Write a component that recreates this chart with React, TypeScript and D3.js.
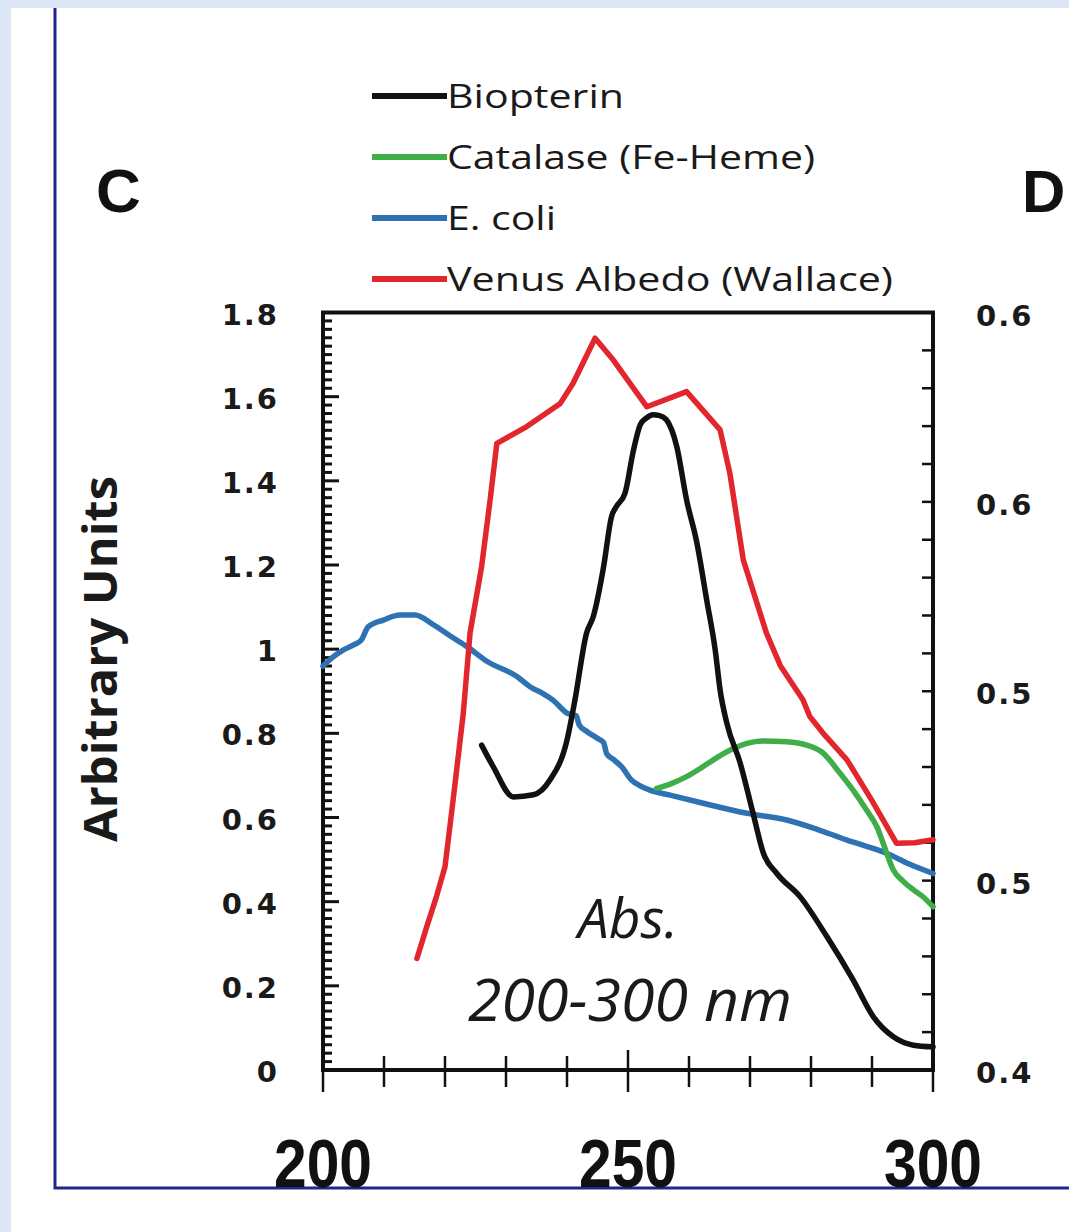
import React, { useRef, useEffect } from "react";
import * as d3 from "d3";

// series (nm / arbitrary units)
const seriesNames = ["Biopterin", "Catalase (Fe-Heme)", "E. coli", "Venus Albedo (Wallace)"];
const seriesColors = ["#111111", "#3fae49", "#2f72b4", "#e2262e"];

const biopterinNm = [226, 227.9, 231.2, 234.5, 237.2, 240, 241.3, 243.2, 244.3, 246, 247.3, 248.1, 249.5, 250.9, 252, 253, 254.1, 255.2, 256.3, 258, 259.6, 261.3, 262.9, 264.3, 265.1, 266.2, 268.4, 270.5, 272.2, 274.4, 278.2, 282.6, 286.9, 290.2, 293.5, 296.8, 300];
const biopterinVal = [0.772, 0.721, 0.649, 0.654, 0.689, 0.784, 0.879, 1.038, 1.077, 1.196, 1.315, 1.339, 1.37, 1.473, 1.533, 1.549, 1.557, 1.555, 1.545, 1.481, 1.355, 1.252, 1.117, 0.998, 0.903, 0.824, 0.729, 0.61, 0.515, 0.467, 0.412, 0.317, 0.214, 0.127, 0.079, 0.059, 0.055];

const catalaseNm = [254.7, 257, 259.6, 262, 264, 267, 269.5, 272, 276, 279.3, 282, 284.5, 286.9, 289, 290.8, 292.3, 293.5, 295, 296.8, 298.5, 300];
const catalaseVal = [0.669, 0.68, 0.697, 0.718, 0.737, 0.762, 0.776, 0.782, 0.78, 0.772, 0.753, 0.71, 0.665, 0.62, 0.578, 0.52, 0.475, 0.45, 0.428, 0.41, 0.388];

const ecoliNm = [200, 201.5, 203.3, 205, 206.3, 207.4, 209.9, 212.6, 215.1, 218.1, 221, 223.6, 227, 231.8, 234, 236, 237.7, 240, 241.5, 242, 243.2, 245, 246, 246.5, 247.6, 249, 250.5, 252, 253.6, 256.9, 262, 269.5, 276, 281, 285.8, 289, 292.4, 296, 300];
const ecoliVal = [0.96, 0.98, 0.998, 1.01, 1.022, 1.053, 1.069, 1.081, 1.081, 1.058, 1.03, 1.006, 0.97, 0.935, 0.91, 0.895, 0.879, 0.848, 0.842, 0.82, 0.805, 0.788, 0.778, 0.752, 0.738, 0.72, 0.69, 0.675, 0.665, 0.653, 0.635, 0.61, 0.594, 0.572, 0.547, 0.532, 0.515, 0.49, 0.467];

const venusNm = [215.4, 217, 218.6, 220, 221.4, 223, 224.1, 226, 227.4, 228.5, 233.4, 238.9, 241, 244.6, 247.6, 250.3, 253.1, 259.6, 265.1, 266.7, 268.9, 272.7, 275, 278.7, 279.8, 282, 285.9, 290, 294, 297, 300];
const venusVal = [0.265, 0.34, 0.412, 0.483, 0.65, 0.848, 1.038, 1.196, 1.355, 1.489, 1.529, 1.584, 1.632, 1.739, 1.687, 1.632, 1.576, 1.612, 1.521, 1.418, 1.212, 1.038, 0.96, 0.879, 0.84, 0.8, 0.737, 0.64, 0.539, 0.54, 0.547];

// axes
const leftTicks = [0, 0.2, 0.4, 0.6, 0.8, 1, 1.2, 1.4, 1.6, 1.8];
const leftTickLabels = ["0", "0.2", "0.4", "0.6", "0.8", "1", "1.2", "1.4", "1.6", "1.8"];
const rightTicks = [0.4, 0.45, 0.5, 0.55, 0.6];
const rightTickLabels = ["0.4", "0.5", "0.5", "0.6", "0.6"];
const xTicks = [200, 250, 300];
const xTickLabels = ["200", "250", "300"];

function App() {
  const svgRef = useRef<SVGSVGElement>(null);

  useEffect(() => {
    const width = 1069;
    const height = 1232;
    const plot = { left: 323, right: 933, top: 312.5, bottom: 1070 };

    const svg = d3.select(svgRef.current);
    svg.selectAll("*").remove();

    // page background bits
    svg.append("rect").attr("width", width).attr("height", height).attr("fill", "#ffffff");
    svg.append("rect").attr("width", width).attr("height", 8).attr("fill", "#dde8f6");
    svg.append("rect").attr("width", 11).attr("height", height).attr("fill", "#dde8f6");
    svg.append("path")
      .attr("d", `M55,8 V1188 H${width}`)
      .attr("fill", "none")
      .attr("stroke", "#24248c")
      .attr("stroke-width", 3);

    const x = d3.scaleLinear().domain([200, 300]).range([plot.left, plot.right]);
    const y = d3.scaleLinear().domain([0, 1.8]).range([plot.bottom, plot.top]);
    const y2 = d3.scaleLinear().domain([0.4, 0.6]).range([plot.bottom, plot.top]);

    // left inner ticks
    const leftMinor = d3.range(0, 1.8001, 0.02);
    svg.append("g")
      .selectAll("line")
      .data(leftMinor)
      .enter()
      .append("line")
      .attr("x1", plot.left)
      .attr("x2", (d) => plot.left + (Math.abs(Math.round(d * 50) % 10) === 0 ? 16 : 9))
      .attr("y1", (d) => y(d))
      .attr("y2", (d) => y(d))
      .attr("stroke", "#111")
      .attr("stroke-width", 3);

    // right inner ticks
    const rightMinor = d3.range(0.4, 0.6001, 0.01);
    svg.append("g")
      .selectAll("line")
      .data(rightMinor)
      .enter()
      .append("line")
      .attr("x1", plot.right)
      .attr("x2", plot.right - 11)
      .attr("y1", (d) => y2(d))
      .attr("y2", (d) => y2(d))
      .attr("stroke", "#111")
      .attr("stroke-width", 2.5);

    // bottom crossing ticks
    const bottomTicks = d3.range(200, 300.001, 10);
    svg.append("g")
      .selectAll("line")
      .data(bottomTicks)
      .enter()
      .append("line")
      .attr("x1", (d) => x(d))
      .attr("x2", (d) => x(d))
      .attr("y1", (d) => plot.bottom - (d % 50 === 0 ? 20 : 14))
      .attr("y2", (d) => plot.bottom + (d % 50 === 0 ? 22 : 17))
      .attr("stroke", "#111")
      .attr("stroke-width", 2.5);

    // plot frame
    svg.append("rect")
      .attr("x", plot.left)
      .attr("y", plot.top)
      .attr("width", plot.right - plot.left)
      .attr("height", plot.bottom - plot.top)
      .attr("fill", "none")
      .attr("stroke", "#111")
      .attr("stroke-width", 4);

    // series
    const series = [
      { nm: biopterinNm, val: biopterinVal },
      { nm: catalaseNm, val: catalaseVal },
      { nm: ecoliNm, val: ecoliVal },
      { nm: venusNm, val: venusVal },
    ];
    const line = d3.line<[number, number]>()
      .x((d) => x(d[0]))
      .y((d) => y(d[1]));
    const drawOrder = [2, 1, 3, 0];
    drawOrder.forEach((i) => {
      const pts = series[i].nm.map((n, k) => [n, series[i].val[k]] as [number, number]);
      svg.append("path")
        .datum(pts)
        .attr("d", line.curve(i === 3 ? d3.curveLinear : d3.curveMonotoneX))
        .attr("fill", "none")
        .attr("stroke", seriesColors[i])
        .attr("stroke-width", 5.5)
        .attr("stroke-linejoin", "round")
        .attr("stroke-linecap", "round");
    });

    // left tick labels
    svg.append("g")
      .selectAll("text")
      .data(leftTicks)
      .enter()
      .append("text")
      .attr("x", 279)
      .attr("y", (d) => y(d) + 12)
      .attr("text-anchor", "end")
      .attr("font-family", "DejaVu Sans")
      .attr("font-weight", "bold")
      .attr("font-size", 29)
      .attr("letter-spacing", 2)
      .attr("fill", "#1a1a1a")
      .text((d, i) => leftTickLabels[i]);

    // right tick labels
    svg.append("g")
      .selectAll("text")
      .data(rightTicks)
      .enter()
      .append("text")
      .attr("x", 976)
      .attr("y", (d) => y2(d) + 13)
      .attr("text-anchor", "start")
      .attr("font-family", "DejaVu Sans")
      .attr("font-weight", "bold")
      .attr("font-size", 29)
      .attr("letter-spacing", 2)
      .attr("fill", "#1a1a1a")
      .text((d, i) => rightTickLabels[i]);

    // x tick labels
    svg.append("g")
      .selectAll("text")
      .data(xTicks)
      .enter()
      .append("text")
      .attr("x", (d) => x(d) - 49)
      .attr("y", 1187)
      .attr("font-family", "Liberation Sans")
      .attr("font-weight", "bold")
      .attr("font-size", 68)
      .attr("textLength", 98)
      .attr("lengthAdjust", "spacingAndGlyphs")
      .attr("fill", "#111")
      .text((d, i) => xTickLabels[i]);

    // y axis title
    svg.append("text")
      .attr("transform", "translate(117,659) rotate(-90)")
      .attr("x", -183)
      .attr("y", 0)
      .attr("font-family", "Open Sans")
      .attr("font-weight", "bold")
      .attr("font-size", 47)
      .attr("textLength", 366)
      .attr("lengthAdjust", "spacingAndGlyphs")
      .attr("fill", "#1a1a1a")
      .text("Arbitrary Units");

    // panel letters
    svg.append("text").attr("x", 96).attr("y", 212)
      .attr("font-family", "Liberation Sans").attr("font-weight", "bold")
      .attr("font-size", 62).attr("fill", "#111").text("C");
    svg.append("text").attr("x", 1022).attr("y", 212)
      .attr("font-family", "Liberation Sans").attr("font-weight", "bold")
      .attr("font-size", 60).attr("fill", "#111").text("D");

    // annotation
    svg.append("text").attr("x", 628).attr("y", 938)
      .attr("text-anchor", "middle")
      .attr("font-family", "Open Sans").attr("font-style", "italic")
      .attr("font-size", 55).attr("fill", "#1a1a1a").text("Abs.");
    svg.append("text").attr("x", 468).attr("y", 1021)
      .attr("font-family", "Open Sans").attr("font-style", "italic")
      .attr("font-size", 58).attr("textLength", 324)
      .attr("lengthAdjust", "spacingAndGlyphs")
      .attr("fill", "#1a1a1a").text("200-300 nm");

    // legend
    const legendWidths = [177, 368, 109, 446];
    const legend = svg.append("g");
    seriesNames.forEach((name, i) => {
      const ly = 96 + i * 61;
      legend.append("line")
        .attr("x1", 372).attr("x2", 447)
        .attr("y1", ly).attr("y2", ly)
        .attr("stroke", seriesColors[i])
        .attr("stroke-width", 6);
      legend.append("text")
        .attr("x", 447).attr("y", ly + 12)
        .attr("font-family", "Open Sans")
        .attr("font-size", 33)
        .attr("textLength", legendWidths[i])
        .attr("lengthAdjust", "spacingAndGlyphs")
        .attr("fill", "#1a1a1a")
        .text(name);
    });
  }, []);

  return (
    <svg
      ref={svgRef}
      width={1069}
      height={1232}
      style={{ position: "absolute", left: 0, top: 0 }}
    ></svg>
  );
}

export default App;
